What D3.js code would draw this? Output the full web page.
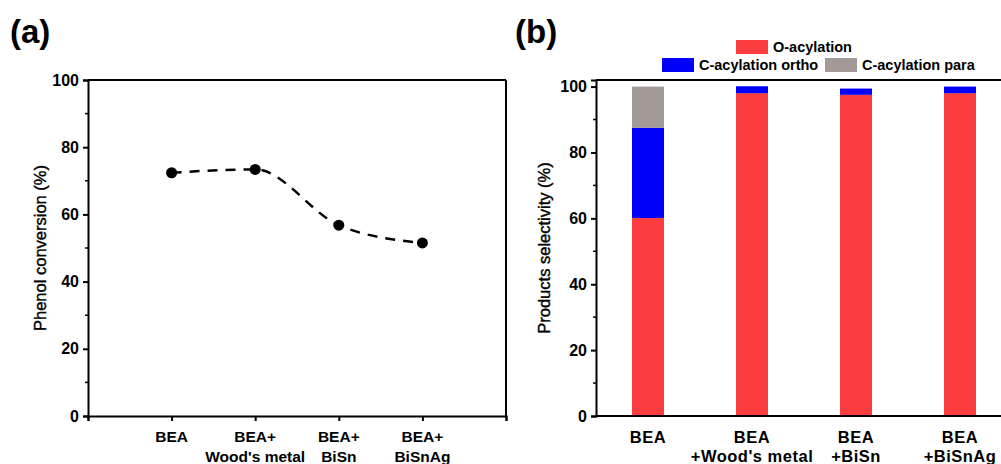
<!DOCTYPE html>
<html>
<head>
<meta charset="utf-8">
<script src="https://cdn.jsdelivr.net/npm/d3@7"></script>
<style>
  body { margin: 0; background: #fff; }
  text { font-family: "Liberation Sans", Arial, sans-serif; }
</style>
</head>
<body>
<script>
// ---- data ----
let convCategories = [["BEA"], ["BEA+", "Wood's metal"], ["BEA+", "BiSn"], ["BEA+", "BiSnAg"]];
let conversion = [72.4, 73.4, 56.8, 51.5];

let selCategories = [["BEA"], ["BEA", "+Wood's metal"], ["BEA", "+BiSn"], ["BEA", "+BiSnAg"]];
let oAcylation = [60.1, 98.0, 97.5, 98.0];
let cOrtho = [27.4, 2.1, 1.9, 2.0];
let cPara = [12.5, 0, 0, 0];
let seriesNames = ["O-acylation", "C-acylation ortho", "C-acylation para"];
let seriesColors = ["#fc3d3f", "#0000fa", "#a39a98"];

let yTicks = [0, 20, 40, 60, 80, 100];
let yMinor = [10, 30, 50, 70, 90];

let svg = d3.select("body").append("svg")
    .attr("width", 1001)
    .attr("height", 464);

// ---------- panel (a) ----------
let xa = d3.scaleLinear().domain([0, 5]).range([88, 506]);
let ya = d3.scaleLinear().domain([0, 100]).range([416, 80]);

svg.append("text").attr("x", 10).attr("y", 43)
    .attr("font-size", 33).attr("font-weight", "bold").text("(a)");

let ga = svg.append("g");

// frame top/right
ga.append("line").attr("x1", xa(0)).attr("x2", xa(5)).attr("y1", ya(100)).attr("y2", ya(100))
    .attr("stroke", "#000").attr("stroke-width", 2);
ga.append("line").attr("x1", xa(5)).attr("x2", xa(5)).attr("y1", ya(100)).attr("y2", ya(0))
    .attr("stroke", "#000").attr("stroke-width", 2);

let yAxisA = ga.append("g").attr("transform", `translate(${xa(0)},0)`)
    .call(d3.axisLeft(ya).tickValues(yTicks).tickSize(5).tickPadding(4));
yAxisA.append("g").selectAll("line").data(yMinor).join("line")
    .attr("x1", -3).attr("x2", 0).attr("y1", d => ya(d)).attr("y2", d => ya(d))
    .attr("stroke", "#000").attr("stroke-width", 1.5);

let xAxisA = ga.append("g").attr("transform", `translate(0,${ya(0)})`)
    .call(d3.axisBottom(xa).tickValues([0, 1, 2, 3, 4, 5]).tickSize(5).tickFormat(""));

[yAxisA, xAxisA].forEach(a => {
    a.select(".domain").attr("stroke-width", 2);
    a.selectAll(".tick line").attr("stroke-width", 2);
});
yAxisA.selectAll(".tick text").attr("font-size", 16).attr("font-weight", "bold")
    .attr("font-family", "Liberation Sans, Arial, sans-serif").attr("fill", "#000");

convCategories.forEach((lines, i) => {
    let t = ga.append("text").attr("x", xa(i + 1)).attr("text-anchor", "middle")
        .attr("font-size", 15.5).attr("font-weight", "bold");
    lines.forEach((s, j) => {
        t.append("tspan").attr("x", xa(i + 1)).attr("y", 442 + j * 20).text(s);
    });
});

svg.append("text")
    .attr("transform", `translate(46,${(ya(0) + ya(100)) / 2}) rotate(-90)`)
    .attr("text-anchor", "middle").attr("font-size", 16.5)
    .attr("stroke", "#000").attr("stroke-width", 0.4)
    .text("Phenol conversion (%)");

let line = d3.line()
    .x((d, i) => xa(i + 1))
    .y(d => ya(d))
    .curve(d3.curveMonotoneX);

ga.append("path").datum(conversion)
    .attr("d", line).attr("fill", "none")
    .attr("stroke", "#000").attr("stroke-width", 2.5)
    .attr("stroke-dasharray", "10,8");

ga.selectAll("circle").data(conversion).join("circle")
    .attr("cx", (d, i) => xa(i + 1)).attr("cy", d => ya(d))
    .attr("r", 5.5).attr("fill", "#000");

// ---------- panel (b) ----------
let xb = d3.scalePoint().domain(d3.range(4)).range([596, 1012]).padding(0.5);
let yb = d3.scaleLinear().domain([0, 102]).range([416, 80]);
let barW = 32;

svg.append("text").attr("x", 515).attr("y", 43)
    .attr("font-size", 33).attr("font-weight", "bold").text("(b)");

let gb = svg.append("g");

let stackRows = oAcylation.map((d, i) => ({ o: d, ortho: cOrtho[i], para: cPara[i], i: i }));
let stacked = d3.stack().keys(["o", "ortho", "para"])(stackRows);

gb.selectAll("g.series").data(stacked).join("g")
    .attr("class", "series")
    .attr("fill", (d, k) => seriesColors[k])
    .selectAll("rect").data(d => d).join("rect")
    .attr("x", d => xb(d.data.i) - barW / 2)
    .attr("width", barW)
    .attr("y", d => yb(d[1]))
    .attr("height", d => yb(d[0]) - yb(d[1]));

gb.append("line").attr("x1", 596).attr("x2", 1012).attr("y1", 80).attr("y2", 80)
    .attr("stroke", "#000").attr("stroke-width", 2);

let yAxisB = gb.append("g").attr("transform", "translate(596,0)")
    .call(d3.axisLeft(yb).tickValues(yTicks).tickSize(5).tickPadding(4));
yAxisB.append("g").selectAll("line").data(yMinor).join("line")
    .attr("x1", -3).attr("x2", 0).attr("y1", d => yb(d)).attr("y2", d => yb(d))
    .attr("stroke", "#000").attr("stroke-width", 1.5);
yAxisB.select(".domain").attr("stroke-width", 2);
yAxisB.selectAll(".tick line").attr("stroke-width", 2);
yAxisB.selectAll(".tick text").attr("font-size", 16).attr("font-weight", "bold")
    .attr("font-family", "Liberation Sans, Arial, sans-serif").attr("fill", "#000");

gb.append("line").attr("x1", 596).attr("x2", 1012).attr("y1", yb(0)).attr("y2", yb(0))
    .attr("stroke", "#000").attr("stroke-width", 2);

selCategories.forEach((lines, i) => {
    let t = gb.append("text").attr("x", xb(i)).attr("text-anchor", "middle")
        .attr("font-size", 16.5).attr("font-weight", "bold").attr("letter-spacing", 0.5);
    lines.forEach((s, j) => {
        t.append("tspan").attr("x", xb(i)).attr("y", 443 + j * 19).text(s);
    });
});

svg.append("text")
    .attr("transform", `translate(550,${(yb(0) + 80) / 2}) rotate(-90)`)
    .attr("text-anchor", "middle").attr("font-size", 16.5)
    .attr("stroke", "#000").attr("stroke-width", 0.4)
    .text("Products selectivity (%)");

// legend
let legendPos = [[736, 40], [662, 58], [825, 58]];
let lg = svg.append("g");
seriesNames.forEach((name, k) => {
    let [lx, ly] = legendPos[k];
    lg.append("rect").attr("x", lx).attr("y", ly).attr("width", 32).attr("height", 14)
        .attr("fill", seriesColors[k]);
    lg.append("text").attr("x", lx + 37).attr("y", ly + 12)
        .attr("font-size", 14.5).attr("font-weight", "bold").text(name);
});
</script>
</body>
</html>
